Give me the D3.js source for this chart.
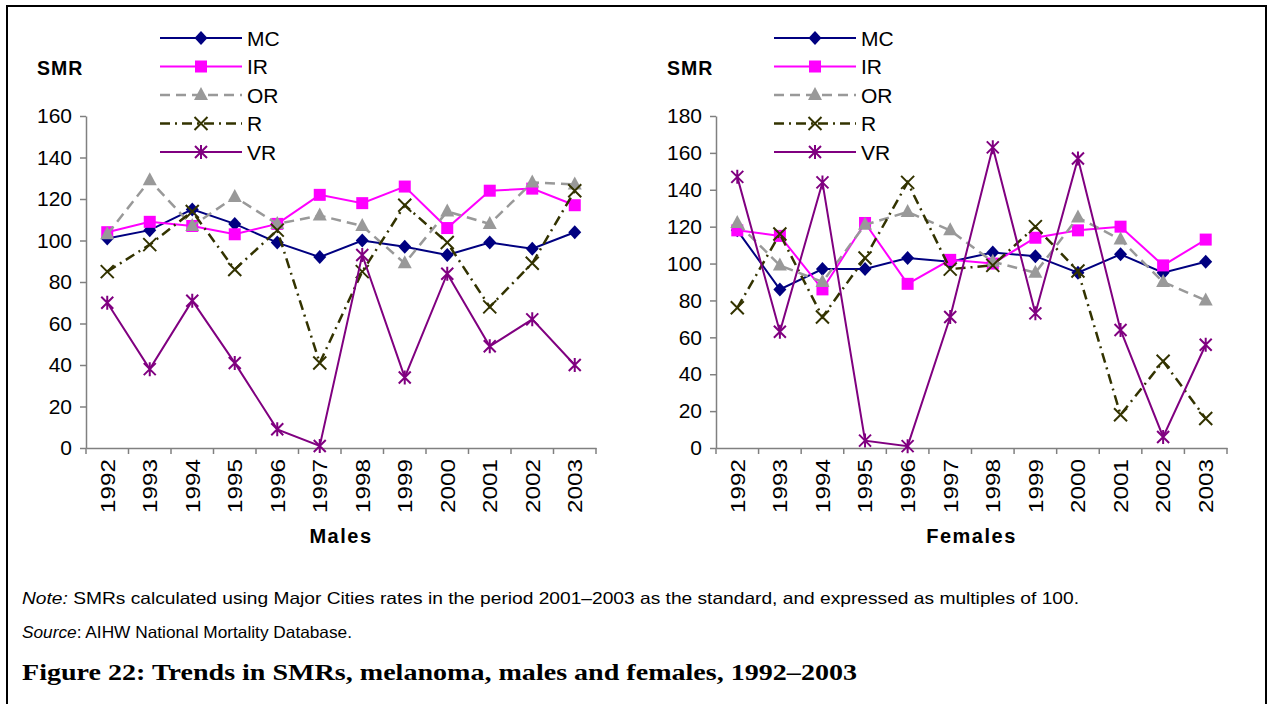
<!DOCTYPE html>
<html><head><meta charset="utf-8">
<script src="https://cdn.jsdelivr.net/npm/d3@7"></script>
<style>
html,body{margin:0;padding:0;background:#fff;}
svg{display:block;}
text{font-family:"Liberation Sans",Arial,sans-serif;}
</style></head>
<body>
<svg id="c" width="1269" height="704"></svg>
<script>
const years = ["1992","1993","1994","1995","1996","1997","1998","1999","2000","2001","2002","2003"];
const seriesNames = ["MC","IR","OR","R","VR"];
const malesMC = [101,105,115,108,99,92,100,97,93,99,96,104];
const malesIR = [104,109,107,103,108,122,118,126,106,124,125,117];
const malesOR = [103,129,107,121,108,112,107,89,114,108,128,127];
const malesR  = [85,98,114,86,105,41,85,117,99,68,89,124];
const malesVR = [70,38,71,41,9,1,93,34,84,49,62,40];
const femalesMC = [118,86,97,97,103,101,106,104,95,105,95,101];
const femalesIR = [118,115,86,122,89,102,100,114,118,120,99,113];
const femalesOR = [122,99,90,121,128,118,101,95,125,113,90,80];
const femalesR  = [76,116,71,103,144,97,99,120,96,18,47,16];
const femalesVR = [147,63,144,4,1,71,163,73,157,64,6,56];
const maleTicks = [0,20,40,60,80,100,120,140,160];
const femaleTicks = [0,20,40,60,80,100,120,140,160,180];

const styles = {
  MC:{color:"#000080",dash:null,width:2,marker:"diamond"},
  IR:{color:"#FF00FF",dash:null,width:2,marker:"square"},
  OR:{color:"#999999",dash:"10,6",width:2.5,marker:"triangle"},
  R:{color:"#333300",dash:"10,5,2,5",width:2.5,marker:"x"},
  VR:{color:"#800080",dash:null,width:2,marker:"star"}
};

const svg = d3.select("#c");
svg.append("rect").attr("x",7).attr("y",6).attr("width",1259).attr("height",720)
  .attr("fill","none").attr("stroke","#000").attr("stroke-width",2);

function drawMarker(g, type, x, y, color){
  if(type==="diamond"){
    g.append("path").attr("d",`M${x},${y-7}L${x+6.5},${y}L${x},${y+7}L${x-6.5},${y}Z`).attr("fill",color);
  } else if(type==="square"){
    g.append("rect").attr("x",x-6).attr("y",y-6).attr("width",12).attr("height",12).attr("fill",color);
  } else if(type==="triangle"){
    g.append("path").attr("d",`M${x},${y-8}L${x+7},${y+5}L${x-7},${y+5}Z`).attr("fill",color);
  } else if(type==="x"){
    const s=6.5;
    g.append("path").attr("d",`M${x-s},${y-s}L${x+s},${y+s}M${x-s},${y+s}L${x+s},${y-s}`).attr("stroke",color).attr("stroke-width",2).attr("fill","none");
  } else if(type==="star"){
    const s=6;
    g.append("path").attr("d",`M${x-s},${y-s}L${x+s},${y+s}M${x-s},${y+s}L${x+s},${y-s}M${x},${y-s-1}L${x},${y+s+1}`).attr("stroke",color).attr("stroke-width",2).attr("fill","none");
  }
}

function chart(opts){
  const {x0,x1,y0,y1,max,ticks,data,title,smrX,legX} = opts;
  const x = d3.scaleBand().domain(years).range([x0,x1]);
  const y = d3.scaleLinear().domain([0,max]).range([y0,y1]);
  const g = svg.append("g");
  const ya = g.append("g").attr("transform",`translate(${x0},0)`).call(d3.axisLeft(y).tickValues(ticks).tickSize(6).tickSizeOuter(0).tickPadding(8));
  ya.select(".domain").attr("stroke","#808080").attr("stroke-width",1.5);
  ya.selectAll(".tick line").attr("stroke","#808080").attr("stroke-width",1.5);
  ya.selectAll(".tick text").attr("font-size",21).attr("fill","#000").style("font-family","'Liberation Sans', Arial, sans-serif");
  const xa = g.append("g").attr("transform",`translate(0,${y0})`).call(d3.axisBottom(x).tickSize(0).tickSizeOuter(0));
  xa.select(".domain").attr("stroke","#808080").attr("stroke-width",1.5);
  xa.selectAll(".tick line").remove();
  xa.selectAll(".tick text").attr("font-size",21).attr("fill","#000").style("font-family","'Liberation Sans', Arial, sans-serif")
    .attr("transform","rotate(-90)").attr("text-anchor","end").attr("x",-11).attr("y",0).attr("dy","0.35em")
    .attr("textLength",54).attr("lengthAdjust","spacingAndGlyphs");
  const edges = years.map(d=>x(d)).concat([x1]);
  g.selectAll(".xt").data(edges).enter().append("line").attr("x1",d=>d).attr("x2",d=>d).attr("y1",y0).attr("y2",y0+6)
    .attr("stroke","#808080").attr("stroke-width",1.5);
  seriesNames.forEach(n=>{
    const st = styles[n];
    const vals = data[n];
    const line = d3.line().x((d,i)=>x(years[i])+x.bandwidth()/2).y(d=>y(d));
    const p = g.append("path").datum(vals).attr("d",line).attr("fill","none").attr("stroke",st.color).attr("stroke-width",st.width);
    if(st.dash) p.attr("stroke-dasharray",st.dash);
    vals.forEach((v,i)=>drawMarker(g,st.marker,x(years[i])+x.bandwidth()/2,y(v),st.color));
  });
  seriesNames.forEach((n,i)=>{
    const st = styles[n];
    const ly = 38 + i*28.5;
    const l = g.append("line").attr("x1",legX).attr("x2",legX+82).attr("y1",ly).attr("y2",ly)
      .attr("stroke",st.color).attr("stroke-width",st.width);
    if(st.dash) l.attr("stroke-dasharray",st.dash);
    drawMarker(g,st.marker,legX+41,ly,st.color);
    g.append("text").attr("x",legX+87).attr("y",ly+7.5).attr("font-size",21).text(n);
  });
  g.append("text").attr("x",smrX).attr("y",75).attr("font-size",19.5).attr("font-weight","bold").attr("letter-spacing",1).text("SMR");
  g.append("text").attr("x",(x0+x1)/2).attr("y",543).attr("text-anchor","middle").attr("font-size",20)
    .attr("font-weight","bold").attr("letter-spacing",1.5).text(title);
}

chart({x0:86,x1:596,y0:448,y1:116,max:160,ticks:maleTicks,title:"Males",smrX:37,legX:160,
  data:{MC:malesMC,IR:malesIR,OR:malesOR,R:malesR,VR:malesVR}});
chart({x0:716,x1:1227,y0:448,y1:116,max:180,ticks:femaleTicks,title:"Females",smrX:667,legX:774,
  data:{MC:femalesMC,IR:femalesIR,OR:femalesOR,R:femalesR,VR:femalesVR}});

const note = svg.append("text").attr("x",22).attr("y",604).attr("font-size",16.5)
  .style("font-family","'Liberation Sans Narrow','Liberation Sans',Arial,sans-serif")
  .attr("textLength",1057).attr("lengthAdjust","spacingAndGlyphs");
note.append("tspan").attr("font-style","italic").text("Note:");
note.append("tspan").text(" SMRs calculated using Major Cities rates in the period 2001–2003 as the standard, and expressed as multiples of 100.");
const src = svg.append("text").attr("x",22).attr("y",638).attr("font-size",16.5)
  .style("font-family","'Liberation Sans Narrow','Liberation Sans',Arial,sans-serif")
  .attr("textLength",330).attr("lengthAdjust","spacingAndGlyphs");
src.append("tspan").attr("font-style","italic").text("Source");
src.append("tspan").text(": AIHW National Mortality Database.");
svg.append("text").attr("x",22).attr("y",680).attr("font-size",23).attr("font-weight","bold")
  .style("font-family","'Liberation Serif','DejaVu Serif',serif")
  .attr("textLength",835).attr("lengthAdjust","spacingAndGlyphs")
  .text("Figure 22: Trends in SMRs, melanoma, males and females, 1992–2003");
</script>
</body></html>
